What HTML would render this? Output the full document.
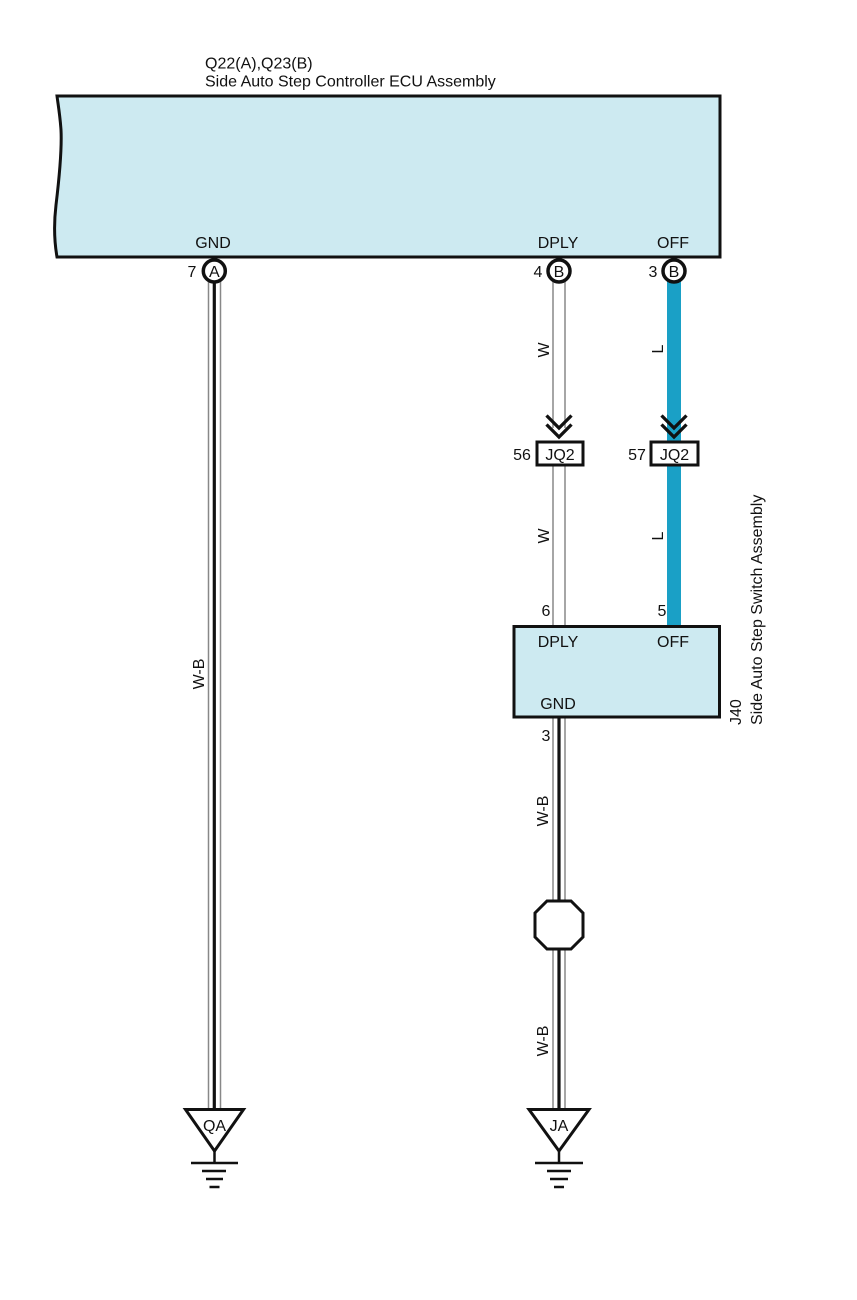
<!DOCTYPE html>
<html>
<head>
<meta charset="utf-8">
<style>
html,body{margin:0;padding:0;background:#fff;}
svg{display:block;}
text{font-family:"Liberation Sans",Arial,sans-serif;font-size:16px;fill:#111;}
</style>
</head>
<body>
<svg width="857" height="1300" viewBox="0 0 857 1300" xmlns="http://www.w3.org/2000/svg">
  <!-- ECU header -->
  <text x="205" y="68.5" font-size="16.3">Q22(A),Q23(B)</text>
  <text x="205" y="86.5" font-size="16.3">Side Auto Step Controller ECU Assembly</text>

  <!-- ECU box with wavy left edge -->
  <path d="M57 96 L720 96 L720 257 L57 257 C54 240 54 222 56 205 C59 180 62 150 61 130 C60 115 58 104 57 96 Z" fill="#cdeaf1" stroke="#111" stroke-width="3"/>
  <text x="213" y="248" text-anchor="middle">GND</text>
  <text x="558" y="248" text-anchor="middle">DPLY</text>
  <text x="673" y="248" text-anchor="middle">OFF</text>

  <!-- Left W-B wire -->
  <line x1="208.5" y1="280" x2="208.5" y2="1110" stroke="#888" stroke-width="1.5"/>
  <line x1="220.5" y1="280" x2="220.5" y2="1110" stroke="#888" stroke-width="1.5"/>
  <line x1="214.3" y1="280" x2="214.3" y2="1110" stroke="#111" stroke-width="3.2"/>

  <!-- DPLY W wire (upper) -->
  <line x1="553" y1="280" x2="553" y2="428" stroke="#888" stroke-width="1.5"/>
  <line x1="565" y1="280" x2="565" y2="428" stroke="#888" stroke-width="1.5"/>
  <!-- DPLY W wire (lower) -->
  <line x1="553" y1="465" x2="553" y2="626" stroke="#888" stroke-width="1.5"/>
  <line x1="565" y1="465" x2="565" y2="626" stroke="#888" stroke-width="1.5"/>

  <!-- OFF L wire -->
  <rect x="667" y="280" width="14" height="162" fill="#1aa0c6"/>
  <rect x="667" y="464" width="14" height="162" fill="#1aa0c6"/>

  <!-- W-B wire below switch -->
  <line x1="553" y1="717" x2="553" y2="1110" stroke="#888" stroke-width="1.5"/>
  <line x1="565" y1="717" x2="565" y2="1110" stroke="#888" stroke-width="1.5"/>
  <line x1="559" y1="717" x2="559" y2="1110" stroke="#111" stroke-width="3.2"/>

  <!-- Pin circles -->
  <circle cx="214.3" cy="271" r="11" fill="#fff" stroke="#111" stroke-width="3.5"/>
  <text x="214.3" y="277" text-anchor="middle" font-size="15.5">A</text>
  <text x="192" y="277" text-anchor="middle">7</text>

  <circle cx="559" cy="271" r="11" fill="#fff" stroke="#111" stroke-width="3.5"/>
  <text x="559" y="277" text-anchor="middle" font-size="15.5">B</text>
  <text x="538" y="277" text-anchor="middle">4</text>

  <circle cx="674" cy="271" r="11" fill="#fff" stroke="#111" stroke-width="3.5"/>
  <text x="674" y="277" text-anchor="middle" font-size="15.5">B</text>
  <text x="653" y="277" text-anchor="middle">3</text>

  <!-- Wire labels (rotated) -->
  <text transform="translate(549,350) rotate(-90)" text-anchor="middle">W</text>
  <text transform="translate(663,349) rotate(-90)" text-anchor="middle">L</text>
  <text transform="translate(549,536) rotate(-90)" text-anchor="middle">W</text>
  <text transform="translate(663,536) rotate(-90)" text-anchor="middle">L</text>
  <text transform="translate(204,674) rotate(-90)" text-anchor="middle">W-B</text>
  <text transform="translate(548,811) rotate(-90)" text-anchor="middle">W-B</text>
  <text transform="translate(548,1041) rotate(-90)" text-anchor="middle">W-B</text>

  <!-- Chevrons -->
  <polyline points="546.5,415.5 559,428 571.5,415.5" fill="none" stroke="#111" stroke-width="3.3"/>
  <polyline points="546.5,424.5 559,437 571.5,424.5" fill="none" stroke="#111" stroke-width="3.3"/>
  <polyline points="661.5,415.5 674,428 686.5,415.5" fill="none" stroke="#111" stroke-width="3.3"/>
  <polyline points="661.5,424.5 674,437 686.5,424.5" fill="none" stroke="#111" stroke-width="3.3"/>

  <!-- JQ2 connectors -->
  <rect x="537" y="442" width="46" height="23" fill="#fff" stroke="#111" stroke-width="3"/>
  <text x="560" y="460" text-anchor="middle">JQ2</text>
  <text x="522" y="460" text-anchor="middle">56</text>

  <rect x="651" y="442" width="47" height="23" fill="#fff" stroke="#111" stroke-width="3"/>
  <text x="674.5" y="460" text-anchor="middle">JQ2</text>
  <text x="637" y="460" text-anchor="middle">57</text>

  <!-- Switch box -->
  <text x="546" y="616" text-anchor="middle">6</text>
  <text x="662" y="616" text-anchor="middle">5</text>
  <rect x="514" y="626.5" width="205.5" height="90.5" fill="#cdeaf1" stroke="#111" stroke-width="3"/>
  <text x="558" y="647" text-anchor="middle">DPLY</text>
  <text x="673" y="647" text-anchor="middle">OFF</text>
  <text x="558" y="709" text-anchor="middle">GND</text>
  <text x="546" y="741" text-anchor="middle">3</text>

  <!-- Vertical side labels -->
  <text transform="translate(741,725) rotate(-90)">J40</text>
  <text transform="translate(762,725) rotate(-90)">Side Auto Step Switch Assembly</text>

  <!-- Octagon splice -->
  <polygon points="547,901 571,901 583,913 583,937 571,949 547,949 535,937 535,913" fill="#fff" stroke="#111" stroke-width="3"/>

  <!-- Ground QA -->
  <polygon points="185.5,1109.5 243.5,1109.5 214.5,1151" fill="#fff" stroke="#111" stroke-width="3" stroke-linejoin="miter"/>
  <text x="214.5" y="1131" text-anchor="middle" font-size="15">QA</text>
  <line x1="214.5" y1="1150" x2="214.5" y2="1163" stroke="#111" stroke-width="2.5"/>
  <line x1="191" y1="1163" x2="238" y2="1163" stroke="#111" stroke-width="2.5"/>
  <line x1="202" y1="1171" x2="226" y2="1171" stroke="#111" stroke-width="2.5"/>
  <line x1="206" y1="1179" x2="223" y2="1179" stroke="#111" stroke-width="2.5"/>
  <line x1="209.5" y1="1187" x2="219.5" y2="1187" stroke="#111" stroke-width="2.5"/>

  <!-- Ground JA -->
  <polygon points="529,1109.5 589,1109.5 559,1151" fill="#fff" stroke="#111" stroke-width="3" stroke-linejoin="miter"/>
  <text x="559" y="1131" text-anchor="middle" font-size="15">JA</text>
  <line x1="559" y1="1150" x2="559" y2="1163" stroke="#111" stroke-width="2.5"/>
  <line x1="535" y1="1163" x2="583" y2="1163" stroke="#111" stroke-width="2.5"/>
  <line x1="547" y1="1171" x2="571" y2="1171" stroke="#111" stroke-width="2.5"/>
  <line x1="550" y1="1179" x2="568" y2="1179" stroke="#111" stroke-width="2.5"/>
  <line x1="554" y1="1187" x2="564" y2="1187" stroke="#111" stroke-width="2.5"/>
</svg>
</body>
</html>
